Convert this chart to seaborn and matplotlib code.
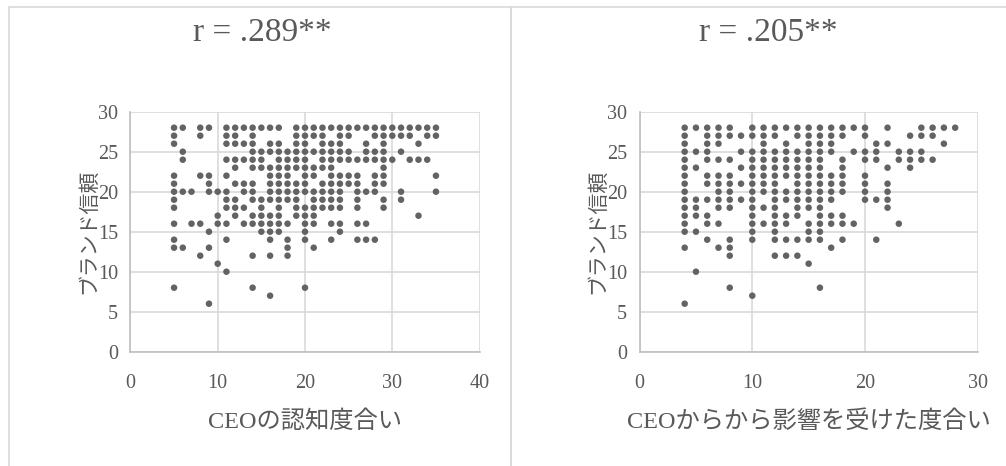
import matplotlib
matplotlib.use("Agg")
import matplotlib.pyplot as plt
import seaborn as sns
import pandas as pd
from matplotlib.patches import Rectangle

sns.set_theme(style="white")
plt.rcParams['font.family'] = ['Liberation Serif', 'Noto Sans CJK JP']

TEXT = '#595959'
GRID = '#D9D9D9'
AXIS = '#BFBFBF'
DOT = '#636363'

# Brand trust score -> CEO awareness scores observed at that trust level
awareness_by_trust = {
    28: [5, 6, 8, 9, 11, 12, 13, 14, 15, 16, 17, 19, 20, 21, 22, 23, 24, 25, 26,
         27, 28, 29, 30, 31, 32, 33, 34, 35],
    27: [5, 8, 11, 12, 14, 19, 20, 21, 22, 24, 25, 28, 29, 30, 31, 32, 34, 35],
    26: [5, 11, 12, 13, 14, 16, 17, 19, 20, 22, 23, 24, 27, 29, 33],
    25: [6, 14, 15, 16, 17, 18, 19, 20, 21, 22, 23, 24, 25, 27, 28, 29, 31],
    24: [6, 11, 12, 13, 14, 15, 17, 18, 19, 20, 22, 23, 24, 25, 26, 27, 28, 29,
         30, 32, 33, 34],
    23: [12, 14, 15, 16, 17, 18, 19, 20, 21, 22, 23, 29],
    22: [5, 8, 9, 11, 16, 17, 18, 20, 21, 23, 24, 25, 26, 28, 29, 35],
    21: [5, 9, 12, 13, 14, 16, 17, 18, 19, 20, 22, 23, 24, 25, 26, 28, 29],
    20: [5, 6, 7, 9, 10, 11, 13, 14, 16, 17, 18, 19, 20, 21, 22, 23, 24, 26, 27,
         28, 31, 35],
    19: [5, 11, 12, 14, 15, 16, 17, 18, 19, 21, 22, 23, 24, 26, 29, 31],
    18: [5, 11, 12, 13, 15, 17, 19, 20, 21, 22, 23, 24, 26, 29],
    17: [10, 12, 14, 15, 16, 17, 19, 20, 21, 33],
    16: [5, 7, 8, 10, 11, 13, 14, 15, 16, 17, 18, 20, 21, 23, 24, 26, 27],
    15: [9, 15, 16, 17, 20, 24],
    14: [5, 11, 16, 18, 20, 23, 26, 27, 28],
    13: [5, 6, 9, 18, 21],
    12: [8, 14, 16, 18],
    11: [10],
    10: [11],
    8: [5, 14, 20],
    7: [16],
    6: [9],
}

# Brand trust score -> degree of CEO influence observed at that trust level
influence_by_trust = {
    28: [4, 5, 6, 7, 8, 10, 11, 12, 13, 14, 15, 16, 17, 18, 19, 20, 22, 25, 26,
         27, 28],
    27: [4, 6, 7, 8, 9, 10, 11, 12, 14, 15, 16, 17, 18, 20, 24, 25, 26],
    26: [4, 6, 7, 11, 13, 15, 16, 17, 21, 22, 27],
    25: [4, 5, 6, 9, 10, 11, 12, 13, 14, 15, 16, 17, 19, 20, 21, 23, 24, 25],
    24: [4, 6, 7, 8, 10, 11, 12, 13, 14, 15, 16, 18, 20, 21, 23, 24, 25, 26],
    23: [4, 5, 9, 10, 11, 12, 13, 14, 15, 16, 18, 22, 24],
    22: [4, 6, 7, 8, 10, 11, 12, 13, 14, 15, 16, 17, 18, 20],
    21: [4, 6, 7, 8, 9, 10, 11, 12, 14, 15, 16, 17, 18, 20, 22],
    20: [4, 7, 8, 10, 11, 12, 13, 14, 15, 16, 17, 18, 20, 22],
    19: [4, 5, 6, 7, 8, 9, 10, 12, 13, 14, 15, 16, 17, 20, 21, 22],
    18: [4, 5, 7, 8, 10, 11, 12, 14, 15, 16, 22],
    17: [4, 5, 6, 10, 12, 13, 14, 16, 17, 18],
    16: [4, 6, 7, 10, 11, 12, 13, 15, 16, 17, 18, 19, 23],
    15: [4, 5, 10, 12, 15, 16],
    14: [6, 8, 10, 12, 13, 14, 15, 16, 18, 21],
    13: [4, 7, 8, 17],
    12: [8, 12, 13, 14],
    11: [15],
    10: [5],
    8: [8, 16],
    7: [10],
    6: [4],
}

left_title = 'r = .289**'
right_title = 'r = .205**'
left_xlabel = 'CEOの認知度合い'
right_xlabel = 'CEOからから影響を受けた度合い'
ylabel = 'ブランド信頼'
left_xticks = [0, 10, 20, 30, 40]
right_xticks = [0, 10, 20, 30]
yticks = [0, 5, 10, 15, 20, 25, 30]


def to_frame(rows):
    pts = [(x, y) for y, xs in rows.items() for x in xs]
    return pd.DataFrame(pts, columns=['x', 'y'])


W, H = 1006, 466
fig = plt.figure(figsize=(W / 100, H / 100), dpi=100)
fig.patch.set_facecolor('white')

# chart frames (each chart object carries its own thin border)
fig.add_artist(Rectangle((9 / W, -0.1), 502 / W, 1.1 - 7 / H, transform=fig.transFigure,
                         fill=False, edgecolor=GRID, linewidth=1.2))
fig.add_artist(Rectangle((511 / W, -0.1), 520 / W, 1.1 - 7 / H, transform=fig.transFigure,
                         fill=False, edgecolor=GRID, linewidth=1.2))


def draw_panel(rect, df, xmax, xticks, title, xlabel, title_x, ylabel_x):
    ax = fig.add_axes(rect)
    sns.scatterplot(data=df, x='x', y='y', ax=ax, color=DOT, s=22,
                    edgecolor='none', linewidth=0, zorder=3)
    ax.set_xlim(0, xmax)
    ax.set_ylim(0, 30)
    ax.set_xticks(xticks)
    ax.set_yticks(yticks)
    ax.grid(True, color=GRID, linewidth=1.2, zorder=0)
    ax.set_axisbelow(True)
    for side in ('top', 'right'):
        ax.spines[side].set_visible(False)
    for side in ('left', 'bottom'):
        ax.spines[side].set_color(AXIS)
        ax.spines[side].set_linewidth(1.2)
    ax.tick_params(axis='both', length=0, labelsize=14.5, colors=TEXT)
    ax.tick_params(axis='x', pad=16)
    ax.tick_params(axis='y', pad=9)
    ax.set_xlabel('')
    ax.set_ylabel('')
    left, bottom, width, height = rect
    fig.text(left + width / 2, 1 - 422 / H, xlabel, ha='center', va='center',
             fontsize=17.5, color=TEXT)
    fig.text(ylabel_x / W, bottom + height / 2, ylabel, ha='center', va='center',
             rotation=90, fontsize=15, color=TEXT)
    fig.text(title_x / W, 1 - 33 / H, title, ha='center', va='center',
             fontsize=24, color=TEXT)


draw_panel([130.4 / W, 1 - 351.7 / H, 349.2 / W, 240 / H],
           to_frame(awareness_by_trust), 40, left_xticks, left_title, left_xlabel, 262, 89)
draw_panel([639.6 / W, 1 - 351.7 / H, 338.1 / W, 240 / H],
           to_frame(influence_by_trust), 30, right_xticks, right_title, right_xlabel, 768, 598)

fig.savefig('out.png', dpi=100, facecolor='white')
